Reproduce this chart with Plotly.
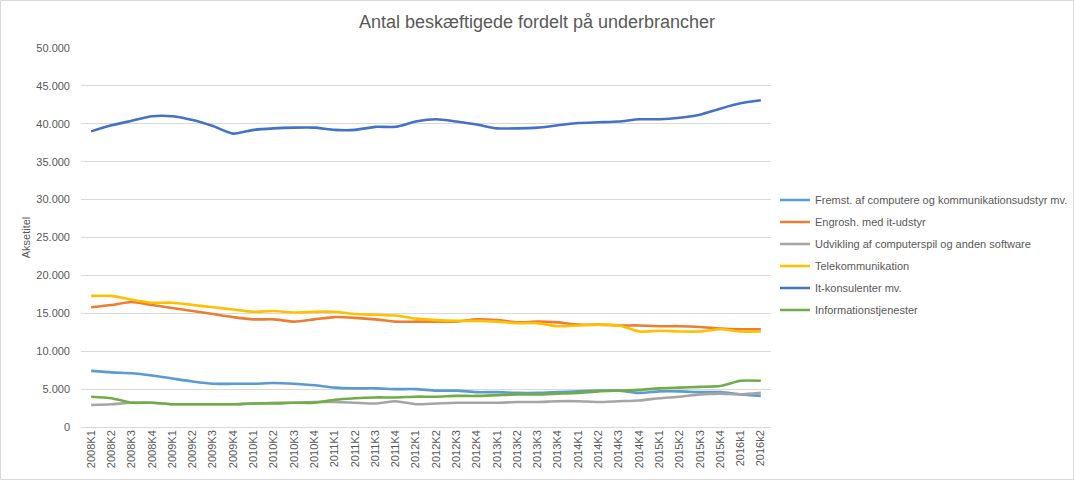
import plotly.graph_objects as go

quarters = ["2008K1","2008K2","2008K3","2008K4","2009K1","2009K2","2009K3","2009K4",
            "2010K1","2010K2","2010K3","2010K4","2011K1","2011K2","2011K3","2011K4",
            "2012K1","2012K2","2012K3","2012K4","2013K1","2013K2","2013K3","2013K4",
            "2014K1","2014K2","2014K3","2014K4","2015K1","2015K2","2015K3","2015K4",
            "2016k1","2016k2"]

fremst = [7400,7200,7100,6800,6400,6000,5700,5700,5700,5800,5700,5500,5200,5100,5100,5000,
          5000,4800,4800,4600,4600,4500,4500,4600,4700,4800,4800,4500,4700,4700,4600,4600,4300,4100]
engrosh = [15800,16100,16500,16100,15700,15300,14900,14500,14200,14200,13900,14200,14500,14400,14200,13900,
           13900,13900,13900,14200,14100,13800,13900,13800,13500,13500,13400,13400,13300,13300,13200,13000,12900,12900]
udvikling = [2900,3000,3200,3200,3000,3000,3000,3000,3100,3200,3200,3300,3300,3200,3100,3400,
             3000,3100,3200,3200,3200,3300,3300,3400,3400,3300,3400,3500,3800,4000,4300,4400,4300,4500]
telekom = [17300,17300,16800,16400,16400,16100,15800,15500,15200,15300,15100,15200,15200,14900,14800,14700,
           14300,14100,14000,14000,13900,13700,13700,13300,13400,13500,13400,12600,12700,12600,12600,12900,12600,12600]
itkons = [39000,39800,40400,41000,41000,40500,39700,38700,39200,39400,39500,39500,39200,39200,39600,39600,
          40300,40600,40300,39900,39400,39400,39500,39800,40100,40200,40300,40600,40600,40800,41200,42000,42700,43100]
info = [4000,3800,3200,3200,3000,3000,3000,3000,3100,3100,3200,3200,3600,3800,3900,3900,
        4000,4000,4100,4100,4200,4300,4300,4400,4500,4700,4800,4900,5100,5200,5300,5400,6100,6100]

series_names = ["Fremst. af computere og kommunikationsudstyr mv.",
                "Engrosh. med it-udstyr",
                "Udvikling af computerspil og anden software",
                "Telekommunikation",
                "It-konsulenter mv.",
                "Informationstjenester"]
series_values = [fremst, engrosh, udvikling, telekom, itkons, info]
colors = ["#5B9BD5", "#ED7D31", "#A5A5A5", "#FFC000", "#4472C4", "#70AD47"]

fig = go.Figure()
for i, (name, vals, col) in enumerate(zip(series_names, series_values, colors)):
    fig.add_trace(go.Scatter(
        x=quarters, y=vals, name=name, mode="lines",
        legendgroup=str(i),
        line=dict(color=col, width=2.6, shape="spline", smoothing=0.6),
    ))

L, R, T, B = 81, 303, 48, 53
pw, ph = 1074 - L - R, 480 - T - B

fig.update_layout(
    width=1074, height=480,
    margin=dict(l=L, r=R, t=T, b=B, autoexpand=False),
    paper_bgcolor="white", plot_bgcolor="white",
    separators=",.",
    font=dict(family="Liberation Sans, Arial, sans-serif", color="#595959", size=11),
    title=dict(text="Antal beskæftigede fordelt på underbrancher", x=0.5, xref="container",
               xanchor="center", y=1 - 22/480, yref="container", yanchor="middle",
               font=dict(size=18, color="#595959")),
    showlegend=True,
    legend=dict(x=(775 - L)/pw, xanchor="left", y=(427 - 185.5)/ph, yanchor="top",
                traceorder="grouped", tracegroupgap=3,
                font=dict(size=11, color="#595959"), bgcolor="rgba(0,0,0,0)",
                itemwidth=30),
    xaxis=dict(type="category", range=[-0.5, 33.5], tickangle=-90, automargin=False,
               showgrid=False, showline=False, ticks="", zeroline=False,
               tickfont=dict(size=11, color="#595959")),
    yaxis=dict(range=[0, 50000], dtick=5000, tickformat=",d", automargin=False,
               showgrid=True, gridcolor="#D9D9D9", gridwidth=1,
               zeroline=True, zerolinecolor="#D9D9D9", zerolinewidth=1,
               showline=False, ticks="", ticklabelstandoff=10,
               tickfont=dict(size=11, color="#595959"),
               title=dict(text="Aksetitel", font=dict(size=11, color="#595959"), standoff=3)),
)

fig.add_shape(type="rect", xref="paper", yref="paper",
              x0=(-L + 0.5)/pw, x1=(1074 - L - 0.5)/pw,
              y0=-(B - 0.5)/ph, y1=1 + (T - 0.5)/ph,
              line=dict(color="#D9D9D9", width=1), fillcolor="rgba(0,0,0,0)", layer="below")

fig.write_html("out.html", config={"displayModeBar": False},
               post_script="document.body.style.margin='0';document.body.style.overflow='hidden';")
